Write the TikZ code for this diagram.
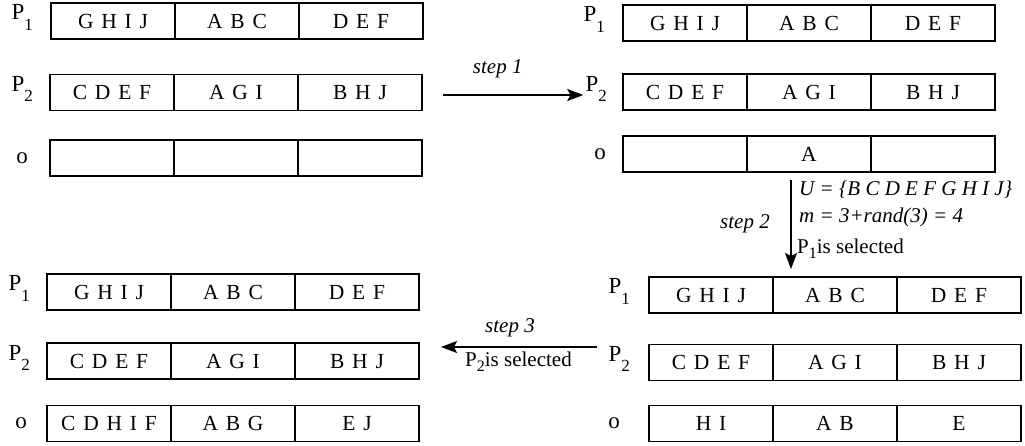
\documentclass[tikz,border=0pt]{standalone}
\usepackage{fontspec}
\setmainfont{Liberation Serif}
\newfontfamily\cellfont{Liberation Serif}[WordSpace=1.45]
\usetikzlibrary{positioning,arrows.meta}

% dropped index: drop, size, text
\newcommand{\lowsub}[3]{\raisebox{-#1}{\fontsize{#2}{#2}\selectfont #3}}

\tikzset{
	cell/.style = {draw, line width = 1.8pt, minimum width = 124pt, minimum height = 36pt,
		inner sep = 0pt, outer sep = 0pt, text height = 14pt, text depth = 0pt,
		font = {\cellfont\fontsize{21.5}{25}\selectfont}},
	lab/.style = {inner sep = 0pt, font = {\fontsize{23}{26}\selectfont}},
	note/.style = {inner sep = 0pt, font = {\fontsize{21}{25}\selectfont}},
	steparrow/.style = {line width = 1.6pt, -{Stealth[length=16pt, width=12pt, inset=3pt]}}
}

% one chromosome: name, left x, centre y, three genes
\newcommand{\cellrow}[6]{%
	\node[cell, anchor = west] (#1-1) at (#2pt, -#3pt) {#4};
	\node[cell, right = 0pt of #1-1] (#1-2) {#5};
	\node[cell, right = 0pt of #1-2] (#1-3) {#6};
}

\begin{document}
\begin{tikzpicture}
	\useasboundingbox (0pt, 0pt) rectangle (1025pt, -445pt);
	
	% before step 1
	\cellrow{a1}{51}{21}{G H I J}{A B C}{D E F}
	\cellrow{a2}{50}{92.5}{C D E F}{A G I}{B H J}
	\cellrow{ao}{50}{158}{}{}{}
	\node[lab, anchor = base east] (a1-l) at ([xshift=-18pt, yshift=2pt]a1-1.west) {P\lowsub{11pt}{17}{1}};
	\node[lab, anchor = base east] (a2-l) at ([xshift=-17pt, yshift=1pt]a2-1.west) {P\lowsub{10pt}{17}{2}};
	\node[lab, anchor = east] (ao-l) at ([xshift=-22pt]ao-1.west) {o};
	
	% after step 1
	\cellrow{b1}{623}{23}{G H I J}{A B C}{D E F}
	\cellrow{b2}{623}{92}{C D E F}{A G I}{B H J}
	\cellrow{bo}{623}{154}{}{A}{}
	\node[lab, anchor = base east] (b1-l) at ([xshift=-18pt, yshift=2pt]b1-1.west) {P\lowsub{11pt}{17}{1}};
	\node[lab, anchor = base east] (b2-l) at ([xshift=-16pt, yshift=1pt]b2-1.west) {P\lowsub{10pt}{17}{2}};
	\node[lab, anchor = east] (bo-l) at ([xshift=-17pt]bo-1.west) {o};
	
	% after step 2
	\cellrow{d1}{649}{295}{G H I J}{A B C}{D E F}
	\cellrow{d2}{649}{362.5}{C D E F}{A G I}{B H J}
	\cellrow{do}{649}{423.5}{H I}{A B}{E}
	\node[lab, anchor = base east] (d1-l) at ([xshift=-19pt, yshift=2pt]d1-1.west) {P\lowsub{11pt}{17}{1}};
	\node[lab, anchor = base east] (d2-l) at ([xshift=-19pt, yshift=1pt]d2-1.west) {P\lowsub{10pt}{17}{2}};
	\node[lab, anchor = east] (do-l) at ([xshift=-29pt]do-1.west) {o};
	
	% after step 3
	\cellrow{c1}{47}{292}{G H I J}{A B C}{D E F}
	\cellrow{c2}{47}{361}{C D E F}{A G I}{B H J}
	\cellrow{co}{47}{423.5}{C D H I F}{A B G}{E J}
	\node[lab, anchor = base east] (c1-l) at ([xshift=-17pt, yshift=2pt]c1-1.west) {P\lowsub{11pt}{17}{1}};
	\node[lab, anchor = base east] (c2-l) at ([xshift=-17pt, yshift=1pt]c2-1.west) {P\lowsub{10pt}{17}{2}};
	\node[lab, anchor = east] (co-l) at ([xshift=-20pt]co-1.west) {o};
	
	% step 1
	\coordinate (s1a) at ([xshift=21pt, yshift=-2.5pt]a2-3.east);
	\coordinate (s1b) at ([xshift=-2pt]b2-l.west);
	\draw[steparrow] (s1a) -- (s1a -| s1b)
		node[note, pos = 0.39, anchor = base, yshift = 22pt] (s1lab) {\textit{step 1}};
	
	% step 2
	\coordinate (s2top) at ([xshift=-18pt, yshift=-8pt]bo-2.south);
	\coordinate (s2bot) at ([yshift=8pt]d1-2.north);
	\draw[steparrow] (s2top) -- (s2top |- s2bot);
	\node[note, anchor = base east] (s2lab) at ([xshift=-21pt, yshift=-48pt]s2top) {\textit{step 2}};
	\node[note, anchor = base west] (s2u) at ([xshift=8pt, yshift=-15pt]s2top) {\textit{U = \{B C D E F G H I J\}}};
	\node[note, anchor = base west] (s2m) at ([xshift=8pt, yshift=-42pt]s2top) {\textit{m = 3+rand(3) = 4}};
	\node[note, anchor = base west] (s2p) at ([xshift=6pt, yshift=-73pt]s2top) {P\lowsub{5pt}{16}{1}is selected};
	
	% step 3
	\coordinate (s3a) at ([xshift=-11pt]d2-l.west);
	\coordinate (s3b) at ([xshift=22pt, yshift=14pt]c2-3.east);
	\draw[steparrow] (s3a |- s3b) -- (s3b);
	\node[note, anchor = base] (s3lab) at ([xshift=69pt, yshift=15pt]s3b) {\textit{step 3}};
	\node[note, anchor = base west] (s3p) at ([xshift=24pt, yshift=-19pt]s3b) {P\lowsub{5pt}{16}{2}is selected};
	
\end{tikzpicture}
\end{document}
